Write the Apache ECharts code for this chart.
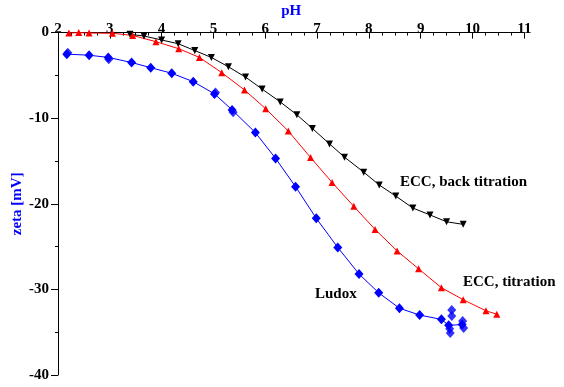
<!DOCTYPE html>
<html>
<head>
<meta charset="utf-8">
<script src="https://cdn.jsdelivr.net/npm/echarts@6/dist/echarts.min.js"></script>
<style>html,body{margin:0;padding:0;background:#fff}#c{width:564px;height:387px}</style>
</head>
<body>
<div id="c"></div>
<script>
// ECC, back titration (pH, zeta mV)
const backPH   = [3.39, 3.66, 4.00, 4.32, 4.64, 4.96, 5.29, 5.62, 5.94, 6.29, 6.61, 6.91, 7.24, 7.53, 7.90, 8.20, 8.52, 8.85, 9.18, 9.50, 9.82];
const backZeta = [-0.2, -0.4, -0.86, -1.3, -2.1, -2.9, -4.0, -5.2, -6.6, -8.1, -9.6, -11.2, -13.0, -14.55, -16.3, -17.8, -19.1, -20.5, -21.3, -22.1, -22.4];
// ECC, titration
const titPH   = [2.21, 2.40, 2.60, 3.05, 3.44, 3.89, 4.33, 4.73, 5.16, 5.60, 6.01, 6.445, 6.875, 7.29, 7.71, 8.12, 8.545, 8.96, 9.40, 9.82, 10.26, 10.47];
const titZeta = [-0.05, 0.0, -0.05, -0.08, -0.33, -1.06, -1.88, -2.9, -4.68, -6.7, -8.9, -11.5, -14.6, -17.5, -20.3, -23.0, -25.5, -27.6, -29.8, -31.2, -32.5, -32.9];
// Ludox
const ludPH   = [2.17, 2.60, 2.97, 3.42, 3.79, 4.195, 4.61, 5.02, 5.36, 5.81, 6.20, 6.585, 6.985, 7.40, 7.81, 8.19, 8.59, 8.98, 9.40, 9.54, 9.80];
const ludZeta = [-2.52, -2.64, -2.9, -3.49, -4.1, -4.75, -5.73, -7.16, -9.03, -11.68, -14.7, -18.0, -21.7, -25.1, -28.2, -30.4, -32.2, -33.0, -33.5, -34.2, -34.1];
// Ludox extra scattered points at the end
const ludExtraPH   = [2.19, 2.98, 5.04, 5.38, 9.60, 9.60, 9.57, 9.56, 9.81, 9.83];
const ludExtraZeta = [-2.35, -3.1, -7.0, -9.3, -32.4, -33.1, -35.1, -34.6, -33.7, -34.5];
// tick labels
const xTicks = [2, 3, 4, 5, 6, 7, 8, 9, 10, 11];
const yTicks = [0, -10, -20, -30, -40];

const zip = (a, b) => a.map((v, i) => [v, b[i]]);
const FONT = '"Liberation Serif", "Times New Roman", serif';
const chart = echarts.init(document.getElementById('c'), null, {renderer: 'canvas'});

const axisText = {color: '#000', fontFamily: FONT, fontWeight: 'bold', fontSize: 15};

chart.setOption({
  animation: false,
  backgroundColor: '#fff',
  grid: {left: 58, top: 32.6, right: 39.7, bottom: 12, containLabel: false, outerBoundsMode: 'none'},
  xAxis: {
    type: 'value', position: 'top', min: 2, max: 11, interval: 1,
    name: 'pH', nameLocation: 'middle', nameGap: 14, nameMoveOverlap: false,
    nameTextStyle: {color: '#0000ff', fontFamily: FONT, fontWeight: 'bold', fontSize: 15},
    axisLine: {show: true, onZero: false, lineStyle: {color: '#000', width: 1}},
    axisTick: {show: true, inside: true, length: 6, lineStyle: {color: '#000'}},
    minorTick: {show: true, splitNumber: 4, length: 3, lineStyle: {color: '#000'}},
    axisLabel: Object.assign({margin: -4, formatter: v => xTicks.includes(v) ? String(v) : ''}, axisText),
    splitLine: {show: false}
  },
  yAxis: {
    type: 'value', min: -40, max: 0, interval: 10,
    name: 'zeta [mV]', nameLocation: 'middle', nameGap: 33, nameRotate: 90, nameMoveOverlap: false,
    nameTextStyle: {color: '#0000ff', fontFamily: FONT, fontWeight: 'bold', fontSize: 15},
    axisLine: {show: true, onZero: false, lineStyle: {color: '#000', width: 1}},
    axisTick: {show: true, inside: false, length: 7, lineStyle: {color: '#000'}},
    minorTick: {show: true, splitNumber: 2, length: 3, lineStyle: {color: '#000'}},
    axisLabel: Object.assign({margin: 9, formatter: v => yTicks.includes(v) ? String(v) : ''}, axisText),
    splitLine: {show: false}
  },
  series: [
    {
      type: 'line', data: zip(backPH, backZeta),
      lineStyle: {color: '#000', width: 1}, itemStyle: {color: '#000'},
      symbol: 'triangle', symbolRotate: 180, symbolSize: 7, z: 3
    },
    {
      type: 'line', data: zip(titPH, titZeta),
      lineStyle: {color: '#ff0000', width: 1}, itemStyle: {color: '#ff0000'},
      symbol: 'triangle', symbolSize: 7, z: 3
    },
    {
      type: 'line', data: zip(ludPH, ludZeta),
      lineStyle: {color: '#0000ff', width: 1}, itemStyle: {color: '#0000ff'},
      symbol: 'diamond', symbolSize: [9, 10], z: 3
    },
    {
      type: 'scatter', data: zip(ludExtraPH, ludExtraZeta),
      itemStyle: {color: '#0000ff'}, symbol: 'diamond', symbolSize: [9, 10], z: 3
    }
  ],
  graphic: [
    {type: 'text', x: 400, y: 182, style: {text: 'ECC, back titration', font: 'bold 15px ' + FONT, fill: '#000', textAlign: 'left', textVerticalAlign: 'middle'}},
    {type: 'text', x: 463, y: 282, style: {text: 'ECC, titration', font: 'bold 15px ' + FONT, fill: '#000', textAlign: 'left', textVerticalAlign: 'middle'}},
    {type: 'text', x: 315, y: 294, style: {text: 'Ludox', font: 'bold 15px ' + FONT, fill: '#000', textAlign: 'left', textVerticalAlign: 'middle'}}
  ]
});
</script>
</body>
</html>
